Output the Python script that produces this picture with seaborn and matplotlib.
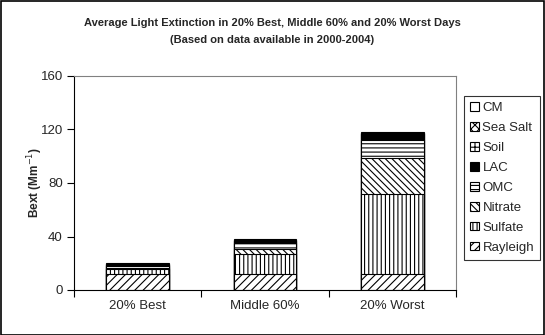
import matplotlib
matplotlib.use("Agg")
import matplotlib.pyplot as plt
import seaborn as sns
import numpy as np
from matplotlib.patches import Patch

# ---- data ----
categories = ["20% Best", "Middle 60%", "20% Worst"]
components = ["Rayleigh", "Sulfate", "Nitrate", "OMC", "LAC", "Soil", "Sea Salt", "CM"]
rayleigh = [12.0, 12.0, 12.0]
sulfate = [4.0, 15.0, 60.0]
nitrate = [0.7, 3.7, 27.0]
omc = [1.5, 4.2, 13.0]
lac = [0.8, 2.0, 4.5]
soil = [0.4, 0.6, 0.8]
sea_salt = [0.1, 0.2, 0.2]
cm = [0.6, 0.7, 0.8]
yticks = [0, 40, 80, 120, 160]

series = [rayleigh, sulfate, nitrate, omc, lac, soil, sea_salt, cm]
hatches = ["////", "||||", "\\\\\\\\\\", "----", "", "+++", "xxxx", ""]
faces = ["white", "white", "white", "white", "black", "white", "white", "white"]

sns.set_style("white")
plt.rcParams["font.family"] = ["Liberation Sans", "DejaVu Sans"]
plt.rcParams["hatch.linewidth"] = 0.8

fig = plt.figure(figsize=(5.45, 3.35), dpi=100)
ax = fig.add_axes([74 / 545, 1 - 290 / 335, (456 - 74) / 545, (290 - 76) / 335])

cum = np.cumsum(np.array(series), axis=0)
# draw cumulative bars from top to bottom so lower components overlay
for i in range(len(components) - 1, -1, -1):
    sns.barplot(x=categories, y=list(cum[i]), color=faces[i], hatch=hatches[i],
                edgecolor="black", linewidth=0.8, width=0.49, ax=ax,
                saturation=1)

ax.set_xlim(-0.5, 2.5)
ax.set_ylim(0, 160)
ax.set_yticks(yticks)
ax.set_yticklabels([str(v) for v in yticks], fontsize=9.5)
ax.set_xticks([0, 1, 2])
ax.set_xticklabels(categories, fontsize=9.5)
ax.set_xticks([-0.5, 0.5, 1.5, 2.5], minor=True)
ax.tick_params(axis="x", which="major", length=0, pad=7)
ax.tick_params(axis="x", which="minor", length=5, width=0.8, direction="out", color="black", bottom=True)
ax.tick_params(axis="y", length=5, width=0.8, direction="out", color="black", left=True, pad=3)
ax.set_xlabel("")
ax.set_ylabel("Bext (Mm$^{-1}$)", fontsize=8.5, fontweight="bold", labelpad=-3)

for s in ["left", "bottom"]:
    ax.spines[s].set_color("black")
    ax.spines[s].set_linewidth(0.8)
for s in ["top", "right"]:
    ax.spines[s].set_color("#808080")
    ax.spines[s].set_linewidth(0.8)

handles = [Patch(facecolor=faces[i], edgecolor="black", hatch=hatches[i], linewidth=0.8,
                 label=components[i]) for i in range(len(components) - 1, -1, -1)]
leg = fig.legend(handles=handles, loc="upper left", bbox_to_anchor=(464 / 545, 1 - 96 / 335),
                 fontsize=9.5, frameon=True, fancybox=False, edgecolor="black",
                 handlelength=0.65, handleheight=0.65, handletextpad=0.3,
                 labelspacing=0.6, borderpad=0.45, borderaxespad=0)
leg.get_frame().set_linewidth(0.8)

fig.text(0.5, 1 - 23 / 335, "Average Light Extinction in 20% Best, Middle 60% and 20% Worst Days",
         ha="center", va="center", fontsize=8, fontweight="bold")
fig.text(0.5, 1 - 40 / 335, "(Based on data available in 2000-2004)",
         ha="center", va="center", fontsize=8, fontweight="bold")

fig.patches.append(plt.Rectangle((0.001, 0.001), 0.997, 0.997, transform=fig.transFigure,
                                 fill=False, edgecolor="black", linewidth=1.2))

fig.savefig("out.png", dpi=100)
